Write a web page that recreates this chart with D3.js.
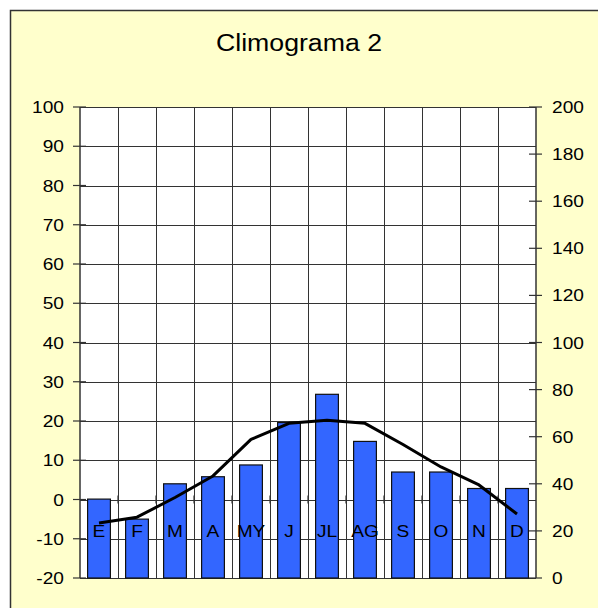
<!DOCTYPE html>
<html><head><meta charset="utf-8">
<script src="https://cdn.jsdelivr.net/npm/d3@7"></script>
<style>body{margin:0;background:#fff}svg{display:block}text{font-family:"Liberation Sans",Arial,sans-serif;fill:#000}</style>
</head><body><svg id="c" width="598" height="608"></svg>
<script>
const months = ["E","F","M","A","MY","J","JL","AG","S","O","N","D"];
const temperature = [-6, -4.5, 0.5, 6, 15.3, 19.4, 20.2, 19.4, 14, 8.3, 3.7, -3.7];
const precipitation = [33.5, 25, 40, 43, 48, 66, 78, 58, 45, 45, 38, 38];
const leftTicks = [-20,-10,0,10,20,30,40,50,60,70,80,90,100];
const rightTicks = [0,20,40,60,80,100,120,140,160,180,200];
const title = "Climograma 2";

const SX = 1.16; // horizontal text stretch seen in the reference
const svg = d3.select("#c");
const L = 80, R = 536, T = 107, B = 578;
const x = d3.scaleBand().domain(months).range([L, R]).paddingInner(0).paddingOuter(0);
const yL = d3.scaleLinear().domain([-20, 100]).range([B, T]);
const yR = d3.scaleLinear().domain([0, 200]).range([B, T]);
const tr = (px, py) => `translate(${px},${py}) scale(${SX},1)`;

// outer frame
svg.append("rect").attr("x",10.5).attr("y",10.5).attr("width",620).attr("height",620)
  .attr("fill","#FFFFCC").attr("stroke","#333").attr("stroke-width",1.5);

svg.append("text").attr("transform",tr(299,51)).attr("text-anchor","middle")
  .attr("font-size",23).text(title);

// plot bg
svg.append("rect").attr("x",L).attr("y",T).attr("width",R-L).attr("height",B-T).attr("fill","#fff");

// horizontal grid
svg.append("g").selectAll("line").data(leftTicks).join("line")
  .attr("x1",L).attr("x2",R).attr("y1",d=>Math.round(yL(d))+0.5).attr("y2",d=>Math.round(yL(d))+0.5)
  .attr("stroke","#333").attr("stroke-width",1);
// vertical grid
svg.append("g").selectAll("line").data(months.slice(1)).join("line")
  .attr("x1",d=>Math.round(x(d))+0.5).attr("x2",d=>Math.round(x(d))+0.5).attr("y1",T).attr("y2",B)
  .attr("stroke","#333").attr("stroke-width",1);

// bars (precipitation, right axis)
const bw = x.bandwidth()*0.6;
svg.append("g").selectAll("rect").data(months).join("rect")
  .attr("x",(d,i)=>x(d)+(x.bandwidth()-bw)/2)
  .attr("y",(d,i)=>yR(precipitation[i]))
  .attr("width",bw)
  .attr("height",(d,i)=>yR(0)-yR(precipitation[i]))
  .attr("fill","#3366FF").attr("stroke","#111").attr("stroke-width",1.2);

// axes lines
svg.append("line").attr("x1",L).attr("x2",L).attr("y1",T).attr("y2",B).attr("stroke","#333").attr("stroke-width",1.5);
svg.append("line").attr("x1",R).attr("x2",R).attr("y1",T).attr("y2",B).attr("stroke","#333").attr("stroke-width",1.5);

// left axis ticks & labels
const gl = svg.append("g");
gl.selectAll("line").data(leftTicks).join("line")
  .attr("x1",L-7).attr("x2",L+6).attr("y1",d=>yL(d)).attr("y2",d=>yL(d))
  .attr("stroke","#333").attr("stroke-width",1.2);
gl.selectAll("text").data(leftTicks).join("text")
  .attr("transform",d=>tr(L-16, yL(d)+6)).attr("text-anchor","end").attr("font-size",16.5).text(d=>d);

// right axis ticks & labels
const gr = svg.append("g");
gr.selectAll("line").data(rightTicks).join("line")
  .attr("x1",R-7).attr("x2",R+6).attr("y1",d=>yR(d)).attr("y2",d=>yR(d))
  .attr("stroke","#333").attr("stroke-width",1.2);
gr.selectAll("text").data(rightTicks).join("text")
  .attr("transform",d=>tr(R+16, yR(d)+6)).attr("text-anchor","start").attr("font-size",16.5).text(d=>d);

// category axis at temperature 0
const y0 = yL(0);
svg.append("g").selectAll("line").data(months.slice(1)).join("line")
  .attr("x1",d=>x(d)).attr("x2",d=>x(d)).attr("y1",y0-4).attr("y2",y0+4)
  .attr("stroke","#333").attr("stroke-width",1.2);
svg.append("g").selectAll("text").data(months).join("text")
  .attr("transform",d=>tr(x(d)+x.bandwidth()/2, y0+37)).attr("text-anchor","middle")
  .attr("font-size",16.5).text(d=>d);

// temperature line (left axis)
const line = d3.line().x((d,i)=>x(months[i])+x.bandwidth()/2).y(d=>yL(d));
svg.append("path").datum(temperature).attr("d",line).attr("fill","none")
  .attr("stroke","#000").attr("stroke-width",3).attr("stroke-linejoin","round");
</script></body></html>
